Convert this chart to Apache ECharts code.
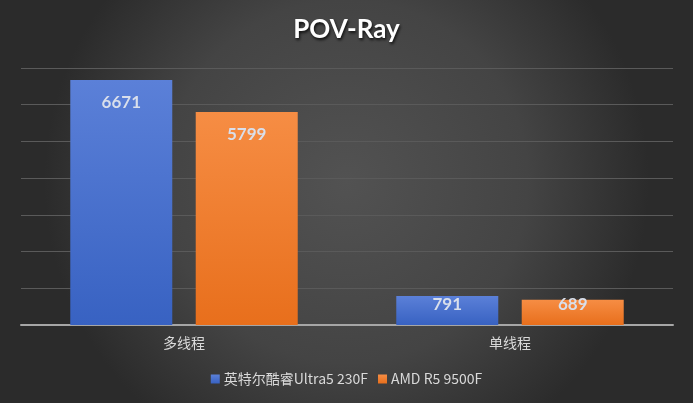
<!DOCTYPE html>
<html><head><meta charset="utf-8">
<script src="https://cdn.jsdelivr.net/npm/echarts@6/dist/echarts.min.js"></script>
<style>html,body{margin:0;padding:0;background:#333;}#c{width:693px;height:403px;}</style>
</head><body><div id="c"></div>
<script>
const title = 'POV-Ray';
const categories = ['多线程', '单线程'];
const seriesNames = ['英特尔酷睿Ultra5 230F', 'AMD R5 9500F'];
const intelValues = [6671, 791];
const amdValues = [5799, 689];
const yMin = 0, yMax = 7000, yInterval = 1000;

const chart = echarts.init(document.getElementById('c'), null, {renderer: 'canvas'});
const lg = (a, b) => new echarts.graphic.LinearGradient(0, 0, 0, 1, [{offset: 0, color: a}, {offset: 1, color: b}]);
const labelCfg = {
  show: true, position: 'insideTop', distance: 14,
  color: '#d9dfeb', fontSize: 17, fontWeight: 'bold', fontFamily: 'Lato, "Open Sans", sans-serif'
};
// short bars: the label sits right at the bar's top edge
const toData = (vals) => vals.map(v => {
  const h = v / yMax * 257;
  if (h >= 40) return v;
  return {value: v, label: {distance: Math.round(h - 29)}};
});
chart.setOption({
  backgroundColor: new echarts.graphic.RadialGradient(0.5, 0.45, 0.75, [
    {offset: 0, color: '#525252'}, {offset: 0.6, color: '#444444'}, {offset: 1, color: '#2b2b2b'}
  ]),
  title: {
    text: title, left: 'center', top: 12,
    textStyle: {color: '#ffffff', fontSize: 26, fontWeight: 'bold', fontFamily: 'Lato, "Open Sans", sans-serif',
      textShadowColor: 'rgba(0,0,0,0.8)', textShadowBlur: 3, textShadowOffsetX: 1, textShadowOffsetY: 2}
  },
  legend: {
    data: seriesNames, bottom: 12, left: 'center', itemWidth: 9, itemHeight: 9, itemGap: 10,
    icon: 'rect',
    textStyle: {color: '#d9d9d9', fontSize: 14, fontFamily: '"Noto Sans CJK SC", sans-serif', padding: [0, 0, 0, -1]}
  },
  grid: {left: 21, right: 20, top: 68, bottom: 78, containLabel: false},
  xAxis: {
    type: 'category', data: categories,
    axisLine: {lineStyle: {color: '#a6a6a6', width: 2}},
    axisTick: {show: false},
    axisLabel: {color: '#d9d9d9', fontSize: 14, margin: 11, fontFamily: '"Noto Sans CJK SC", sans-serif'}
  },
  yAxis: {
    type: 'value', min: yMin, max: yMax, interval: yInterval,
    axisLabel: {show: false}, axisLine: {show: false}, axisTick: {show: false},
    splitLine: {lineStyle: {color: '#5a5a5a', width: 1}}
  },
  series: [
    {name: seriesNames[0], type: 'bar', data: toData(intelValues), barWidth: 102, barGap: '23%',
     itemStyle: {color: lg('#5b80d8', '#3862c2')}, label: labelCfg},
    {name: seriesNames[1], type: 'bar', data: toData(amdValues), barWidth: 102,
     itemStyle: {color: lg('#f68d44', '#e86f1c')}, label: labelCfg}
  ]
});
</script></body></html>
